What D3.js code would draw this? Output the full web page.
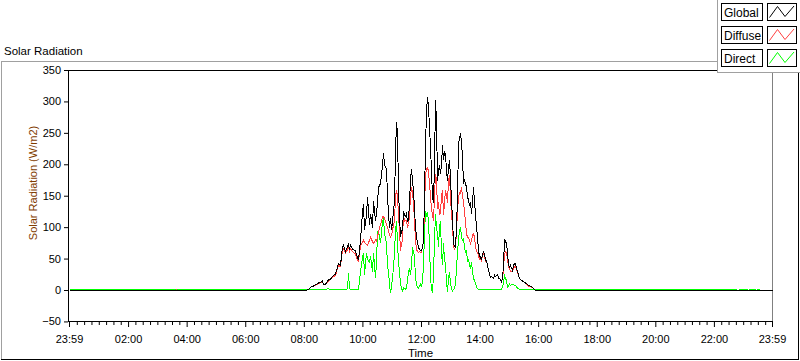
<!DOCTYPE html>
<html><head><meta charset="utf-8">
<script src="https://cdn.jsdelivr.net/npm/d3@7"></script>
<style>
html,body{margin:0;padding:0;background:#fff;}
svg{display:block;font-family:"Liberation Sans",Arial,sans-serif;}
</style></head><body>
<svg id="c" width="800" height="361"></svg>
<script>
// time in minutes after 00:00 (-1 = 23:59 of previous day)
const minutes = [-1,216,218,220,482,489,493,499,505,509,513,517,519,523,530,534,540,544,550,554,558,560,564,568,571,573,575,579,585,589,591,595,599,601,603,607,609,614,616,620,622,626,628,630,632,636,640,642,644,648,650,652,654,657,659,661,663,665,667,669,671,673,675,677,679,681,683,685,687,689,691,693,695,698,700,702,704,706,708,710,712,714,716,718,720,722,724,726,728,730,732,734,736,739,741,743,745,747,749,751,753,755,757,759,761,763,765,767,769,771,773,775,778,780,782,784,786,788,790,792,794,796,798,800,802,804,806,808,810,812,814,817,819,821,823,825,827,829,831,833,835,837,839,841,843,845,847,849,851,853,855,858,862,864,868,870,872,876,878,880,884,886,888,890,892,894,896,899,901,903,907,909,911,913,915,917,921,927,933,940,948,954,1363,1367,1373,1388,1390,1394,1404,1406,1408,1412,1414,1439];
const globalVals = [0,0,0,0,0,2,5,7,10,12,13,15,9,10,17,18,24,26,43,40,70,72,62,70,75,65,72,66,63,52,48,80,125,137,96,120,148,105,122,100,143,110,122,140,164,170,199,218,200,194,150,122,100,115,96,110,127,140,220,268,250,159,120,85,95,96,127,120,118,122,110,111,140,175,194,175,159,130,100,85,75,69,65,63,63,70,79,150,228,285,308,292,260,228,190,148,140,200,303,270,175,190,200,185,200,231,207,220,218,190,175,195,207,180,140,117,75,70,69,100,148,234,240,250,235,212,170,175,170,164,150,143,135,140,122,140,164,140,122,100,85,63,55,53,48,58,61,58,48,48,40,32,21,22,19,25,22,25,20,19,14,20,40,82,78,75,60,40,37,40,32,40,43,43,35,30,19,15,12,8,5,0,0,0,0,0,0,0,0,0,0,0,0,0];
const diffuseVals = [0,0,1.5,0,0,2,5,7,9,11,12,15,9,10,15,17,22,24,40,38,65,66,60,65,70,62,66,62,58,48,47,70,77,80,76,73,72,80,85,78,75,80,78,85,93,105,117,117,115,105,100,95,88,85,88,95,105,110,150,159,150,120,95,63,75,80,122,110,112,112,100,105,120,150,164,155,140,110,80,65,62,61,62,60,61,70,79,130,185,193,195,190,170,150,130,120,110,150,186,175,130,140,120,125,150,160,120,140,160,150,140,175,183,150,120,105,70,66,69,95,125,150,155,154,165,150,140,125,110,90,85,85,80,75,80,88,90,85,70,63,60,55,50,50,47,57,58,55,47,48,40,32,21,22,19,25,22,25,20,19,14,18,35,58,62,60,50,37,35,30,30,35,38,40,33,29,19,15,12,7,5,0,0,0,0,0,0,0,0,0,0,0,0,0];
const directVals = [1.5,1.5,1.5,1.5,1.5,1.5,1.5,1.5,1.5,1.5,1.5,1.5,1.5,1.5,3,1.5,1.5,1.5,1.5,1.5,1.5,2,1.5,3,27,3,1.5,1.5,1.5,1.5,2,30,53,60,25,60,50,45,55,30,60,20,45,93,95,75,110,115,90,75,40,30,10,-4,5,20,37,60,95,111,75,45,30,10,5,-2,5,3,1.5,5,15,30,35,25,40,69,60,55,20,10,5,3,8,10,5,15,40,90,127,120,125,110,70,20,3,-4,25,80,122,100,90,70,100,110,60,40,75,50,40,15,-2,20,30,10,3,-1,1.5,3,10,35,60,80,95,101,85,80,82,70,60,65,45,50,40,35,45,30,20,15,12,5,3,1.5,1.5,1.5,1.5,1.5,1.5,1.5,1.5,1.5,1.5,1.5,1.5,1.5,1.5,1.5,1.5,1.5,1.5,1.5,2,5,12,24,20,15,5,8,10,8,10,10,8,8,6,4,2,2,1.5,1.5,1.5,1.5,1.5,0,1.5,1.5,0,1.5,1.5,0,1.5,1.5,0,0];

const seriesNames = ["Global","Diffuse","Direct"];
const seriesColors = ["#000000","#ff4040","#00ff00"];
const yTicks = [-50,0,50,100,150,200,250,300,350];
const xMajorMinutes = [-1,120,240,360,480,600,720,840,960,1080,1200,1320,1439];
const xMajorLabels = ["23:59","02:00","04:00","06:00","08:00","10:00","12:00","14:00","16:00","18:00","20:00","22:00","23:59"];
const xMinorStep = 15;
const chartTitle = "Solar Radiation";
const yTitle = "Solar Radiation (W/m2)";
const xTitle = "Time";

const svg = d3.select("#c");
const L = 69, R = 772, T = 70, B = 322;
const x = d3.scaleLinear().domain([-1,1439]).range([L, R]);
const y = d3.scaleLinear().domain([0,350]).range([290, 70]);

// outer frame
svg.append("line").attr("x1",1).attr("x2",799).attr("y1",61.5).attr("y2",61.5).attr("stroke","#a0a0a0");
svg.append("line").attr("x1",1.5).attr("x2",1.5).attr("y1",61).attr("y2",360).attr("stroke","#a0a0a0");
svg.append("line").attr("x1",1).attr("x2",799).attr("y1",359.5).attr("y2",359.5).attr("stroke","#000");
svg.append("line").attr("x1",798.5).attr("x2",798.5).attr("y1",61).attr("y2",360).attr("stroke","#000");

svg.append("text").attr("x",4).attr("y",55).attr("font-size",11.5).attr("fill","#000").text(chartTitle);

// plot frame
svg.append("line").attr("x1",68).attr("x2",772).attr("y1",70.5).attr("y2",70.5).attr("stroke","#000");
svg.append("line").attr("x1",772.5).attr("x2",772.5).attr("y1",70).attr("y2",322).attr("stroke","#808080");

// data lines
const rows = minutes.map((m,i)=>({m, g:globalVals[i], d:diffuseVals[i], r:directVals[i]}));
const plotG = svg.append("g");
const mk = key => d3.line().x(d=>Math.round(x(d.m))+0.5).y(d=>y(d[key])+0.5);
plotG.append("path").datum(rows).attr("d",mk("r")).attr("fill","none").attr("stroke",seriesColors[2]).attr("stroke-width",1).attr("shape-rendering","crispEdges");
plotG.append("path").datum(rows).attr("d",mk("d")).attr("fill","none").attr("stroke",seriesColors[1]).attr("stroke-width",1).attr("shape-rendering","crispEdges");
plotG.append("path").datum(rows).attr("d",mk("g")).attr("fill","none").attr("stroke",seriesColors[0]).attr("stroke-width",1).attr("shape-rendering","crispEdges");

// left border / y axis
svg.append("line").attr("x1",68.5).attr("x2",68.5).attr("y1",70).attr("y2",322).attr("stroke","#000");
const yAxis = svg.append("g").attr("transform","translate(68,0)")
  .call(d3.axisLeft(y).tickValues(yTicks).tickSize(4).tickPadding(3).tickFormat(d3.format("d")));
yAxis.select(".domain").remove();
yAxis.selectAll("text").attr("font-size",11).attr("fill","#000").attr("font-family","Liberation Sans, Arial, sans-serif");
yAxis.selectAll("line").attr("stroke","#000");

// bottom border / x axis
svg.append("line").attr("x1",68).attr("x2",773).attr("y1",321.5).attr("y2",321.5).attr("stroke","#000");
const minorVals = d3.range(15,1440,xMinorStep).filter(v=>v%120!==0);
const xMinor = svg.append("g").attr("transform","translate(0,322)")
  .call(d3.axisBottom(x).tickValues(minorVals).tickSize(3).tickFormat(""));
xMinor.select(".domain").remove();
xMinor.selectAll("line").attr("stroke","#000");
const xAxis = svg.append("g").attr("transform","translate(0,322)")
  .call(d3.axisBottom(x).tickValues(xMajorMinutes).tickSize(5).tickPadding(8).tickFormat((d,i)=>xMajorLabels[i]));
xAxis.select(".domain").remove();
xAxis.selectAll("text").attr("font-size",11).attr("fill","#000").attr("font-family","Liberation Sans, Arial, sans-serif");
xAxis.selectAll("line").attr("stroke","#000");

// axis titles
svg.append("text").attr("transform","translate(36.5,183) rotate(-90)").attr("text-anchor","middle")
  .attr("font-size",11).attr("fill","#7f3c00").text(yTitle);
svg.append("text").attr("x",(L+R)/2).attr("y",357).attr("text-anchor","middle")
  .attr("font-size",11.5).attr("fill","#000").text(xTitle);

// legend
const lg = svg.append("g");
lg.append("rect").attr("x",718).attr("y",0).attr("width",82).attr("height",72).attr("fill","#fff");
lg.append("line").attr("x1",717.5).attr("x2",717.5).attr("y1",0).attr("y2",73).attr("stroke","#a0a0a0");
lg.append("line").attr("x1",717).attr("x2",800).attr("y1",72.5).attr("y2",72.5).attr("stroke","#a0a0a0");
seriesNames.forEach((name,i)=>{
  const y0 = 3.5 + i*23;
  lg.append("rect").attr("x",721.5).attr("y",y0).attr("width",41).attr("height",17).attr("fill","#fff").attr("stroke","#000");
  lg.append("text").attr("x",724).attr("y",y0+13).attr("font-size",12).attr("fill","#000").text(name);
  lg.append("rect").attr("x",767.5).attr("y",y0).attr("width",29).attr("height",17).attr("fill","#fff").attr("stroke","#000");
  const pts = [[2,14],[10,3],[17.5,13],[26.5,2.5]].map(p=>[767.5+p[0], y0+p[1]]);
  lg.append("path").attr("d",d3.line()(pts)).attr("fill","none").attr("stroke",seriesColors[i]).attr("stroke-width",1);
});
</script>
</body></html>
